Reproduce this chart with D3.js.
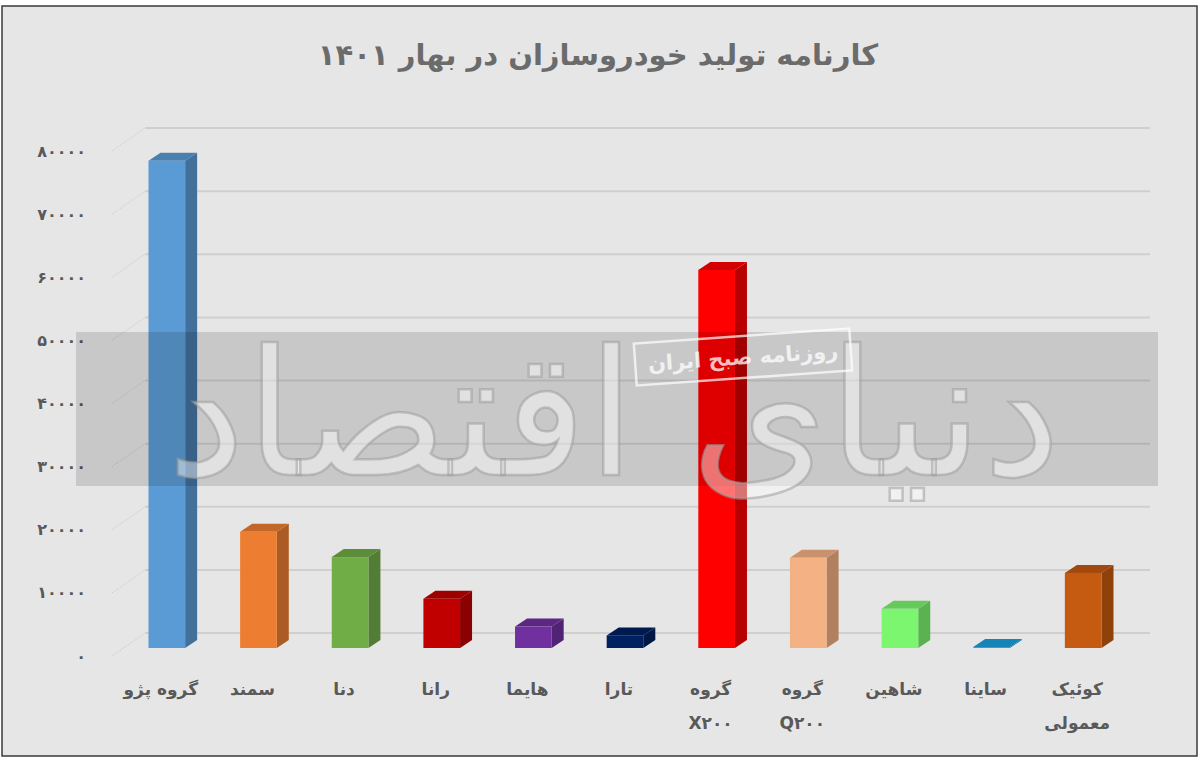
<!DOCTYPE html>
<html>
<head>
<meta charset="utf-8">
<script src="https://cdn.jsdelivr.net/npm/d3@7"></script>
<style>
  body { margin: 0; background: #fff; }
  svg text { font-family: "DejaVu Sans", sans-serif; font-weight: bold; }
</style>
</head>
<body>
<div id="chart"></div>
<script>
// Data
const categories = ["گروه پژو", "سمند", "دنا", "رانا", "هایما", "تارا", "گروه\nX۲۰۰", "گروه\nQ۲۰۰", "شاهین", "ساینا", "کوئیک\nمعمولی"];
const production = [77200, 18400, 14400, 7800, 3400, 2000, 59900, 14300, 6200, 150, 11900];
const yTicks = [0, 10000, 20000, 30000, 40000, 50000, 60000, 70000, 80000];
const barColors = ["#5b9bd5", "#ed7d31", "#70ad47", "#c00000", "#7030a0", "#002060", "#ff0000", "#f4b183", "#7cf56f", "#18a2de", "#c55a11"];
const title = "کارنامه تولید خودروسازان در بهار ۱۴۰۱";

const WIDTH = 1200;
const HEIGHT = 759;
// 3D depth of the back wall and of each bar
const WALL_DY = 15;
const BAR_DX = 12, BAR_DY = 8;

const toFa = (n) => String(n).replace(/[0-9]/g, (c) => "۰۱۲۳۴۵۶۷۸۹"[+c]);

const svg = d3.select("#chart")
  .append("svg")
  .attr("width", WIDTH)
  .attr("height", HEIGHT);

// frame
svg.append("rect")
  .attr("x", 2).attr("y", 6)
  .attr("width", WIDTH - 5).attr("height", HEIGHT - 9)
  .attr("fill", "#e7e6e6")
  .attr("stroke", "#3a3a3a")
  .attr("stroke-width", 1.5);

// title
svg.append("text")
  .attr("x", 598).attr("y", 65)
  .attr("text-anchor", "middle")
  .attr("direction", "rtl")
  .attr("font-size", 29)
  .attr("fill", "#6b6b6b")
  .text(title);

const x = d3.scaleBand()
  .domain(categories)
  .range([121, 1129])
  .paddingInner(0.6)
  .paddingOuter(0.3);

const y = d3.scaleLinear()
  .domain([0, 80000])
  .range([648, 143]);

// back wall gridlines
svg.append("g")
  .selectAll("line")
  .data(yTicks)
  .enter()
  .append("line")
  .attr("x1", 145)
  .attr("x2", 1150)
  .attr("y1", (d) => y(d) - WALL_DY)
  .attr("y2", (d) => y(d) - WALL_DY)
  .attr("stroke", "#cfcfcf")
  .attr("stroke-width", 2);

// dotted leaders from labels to the wall
svg.append("g")
  .selectAll("line")
  .data(yTicks)
  .enter()
  .append("line")
  .attr("x1", 112)
  .attr("y1", (d) => y(d) + 8)
  .attr("x2", 145)
  .attr("y2", (d) => y(d) - WALL_DY)
  .attr("stroke", "#c4c4c4")
  .attr("stroke-width", 1)
  .attr("stroke-dasharray", "1,1.5");

// y tick labels
svg.append("g")
  .selectAll("text")
  .data(yTicks)
  .enter()
  .append("text")
  .attr("x", 86)
  .attr("y", (d) => y(d) + 8)
  .attr("dy", "0.35em")
  .attr("text-anchor", "end")
  .attr("font-size", 16)
  .attr("fill", "#595959")
  .text((d) => toFa(d));

// bars
const bars = svg.append("g")
  .selectAll("g")
  .data(categories.map((c, i) => ({ name: c, value: production[i], color: barColors[i] })))
  .enter()
  .append("g");

const w = x.bandwidth();
const base = y(0);

bars.append("polygon")
  .attr("points", (d) => {
    const x0 = x(d.name) + w, t = y(d.value);
    return [[x0, t], [x0 + BAR_DX, t - BAR_DY], [x0 + BAR_DX, base - BAR_DY], [x0, base]].join(" ");
  })
  .attr("fill", (d) => d3.color(d.color).darker(0.9));

bars.append("polygon")
  .attr("points", (d) => {
    const x0 = x(d.name), t = y(d.value);
    return [[x0, t], [x0 + BAR_DX, t - BAR_DY], [x0 + w + BAR_DX, t - BAR_DY], [x0 + w, t]].join(" ");
  })
  .attr("fill", (d) => d3.color(d.color).darker(0.55));

bars.append("rect")
  .attr("x", (d) => x(d.name))
  .attr("y", (d) => y(d.value))
  .attr("width", w)
  .attr("height", (d) => base - y(d.value))
  .attr("fill", (d) => d.color);

// category labels
svg.append("g")
  .selectAll("text")
  .data(categories)
  .enter()
  .append("text")
  .attr("text-anchor", "middle")
  .attr("font-size", 17)
  .attr("fill", "#595959")
  .selectAll("tspan")
  .data((d) => d.split("\n").map((t, i) => ({ t, i, c: d })))
  .enter()
  .append("tspan")
  .attr("x", (d) => x(d.c) + w / 2 - 6)
  .attr("y", (d) => 695 + d.i * 34)
  .attr("direction", "rtl")
  .text((d) => d.t);

// watermark
const wm = svg.append("g").attr("pointer-events", "none");

wm.append("rect")
  .attr("x", 76).attr("y", 332)
  .attr("width", 1082).attr("height", 154)
  .attr("fill", "#000")
  .attr("opacity", 0.13);

wm.append("text")
  .attr("x", 614).attr("y", 475)
  .attr("text-anchor", "middle")
  .attr("direction", "rtl")
  .attr("font-size", 175)
  .style("font-weight", "normal")
  .attr("fill", "#ffffff")
  .attr("fill-opacity", 0.45)
  .attr("stroke", "#9c9c9c")
  .attr("stroke-opacity", 0.55)
  .attr("stroke-width", 2.5)
  .text("دنیای اقتصاد");

const stamp = wm.append("g").attr("transform", "translate(743,357) rotate(-4)");
stamp.append("rect")
  .attr("x", -108).attr("y", -21)
  .attr("width", 216).attr("height", 42)
  .attr("fill", "none")
  .attr("stroke", "#ffffff")
  .attr("stroke-opacity", 0.7)
  .attr("stroke-width", 2.5);
stamp.append("text")
  .attr("x", 0).attr("y", 0)
  .attr("dy", "0.35em")
  .attr("text-anchor", "middle")
  .attr("direction", "rtl")
  .attr("font-size", 21)
  .attr("fill", "#ffffff")
  .attr("fill-opacity", 0.75)
  .text("روزنامه صبح ایران");
</script>
</body>
</html>
